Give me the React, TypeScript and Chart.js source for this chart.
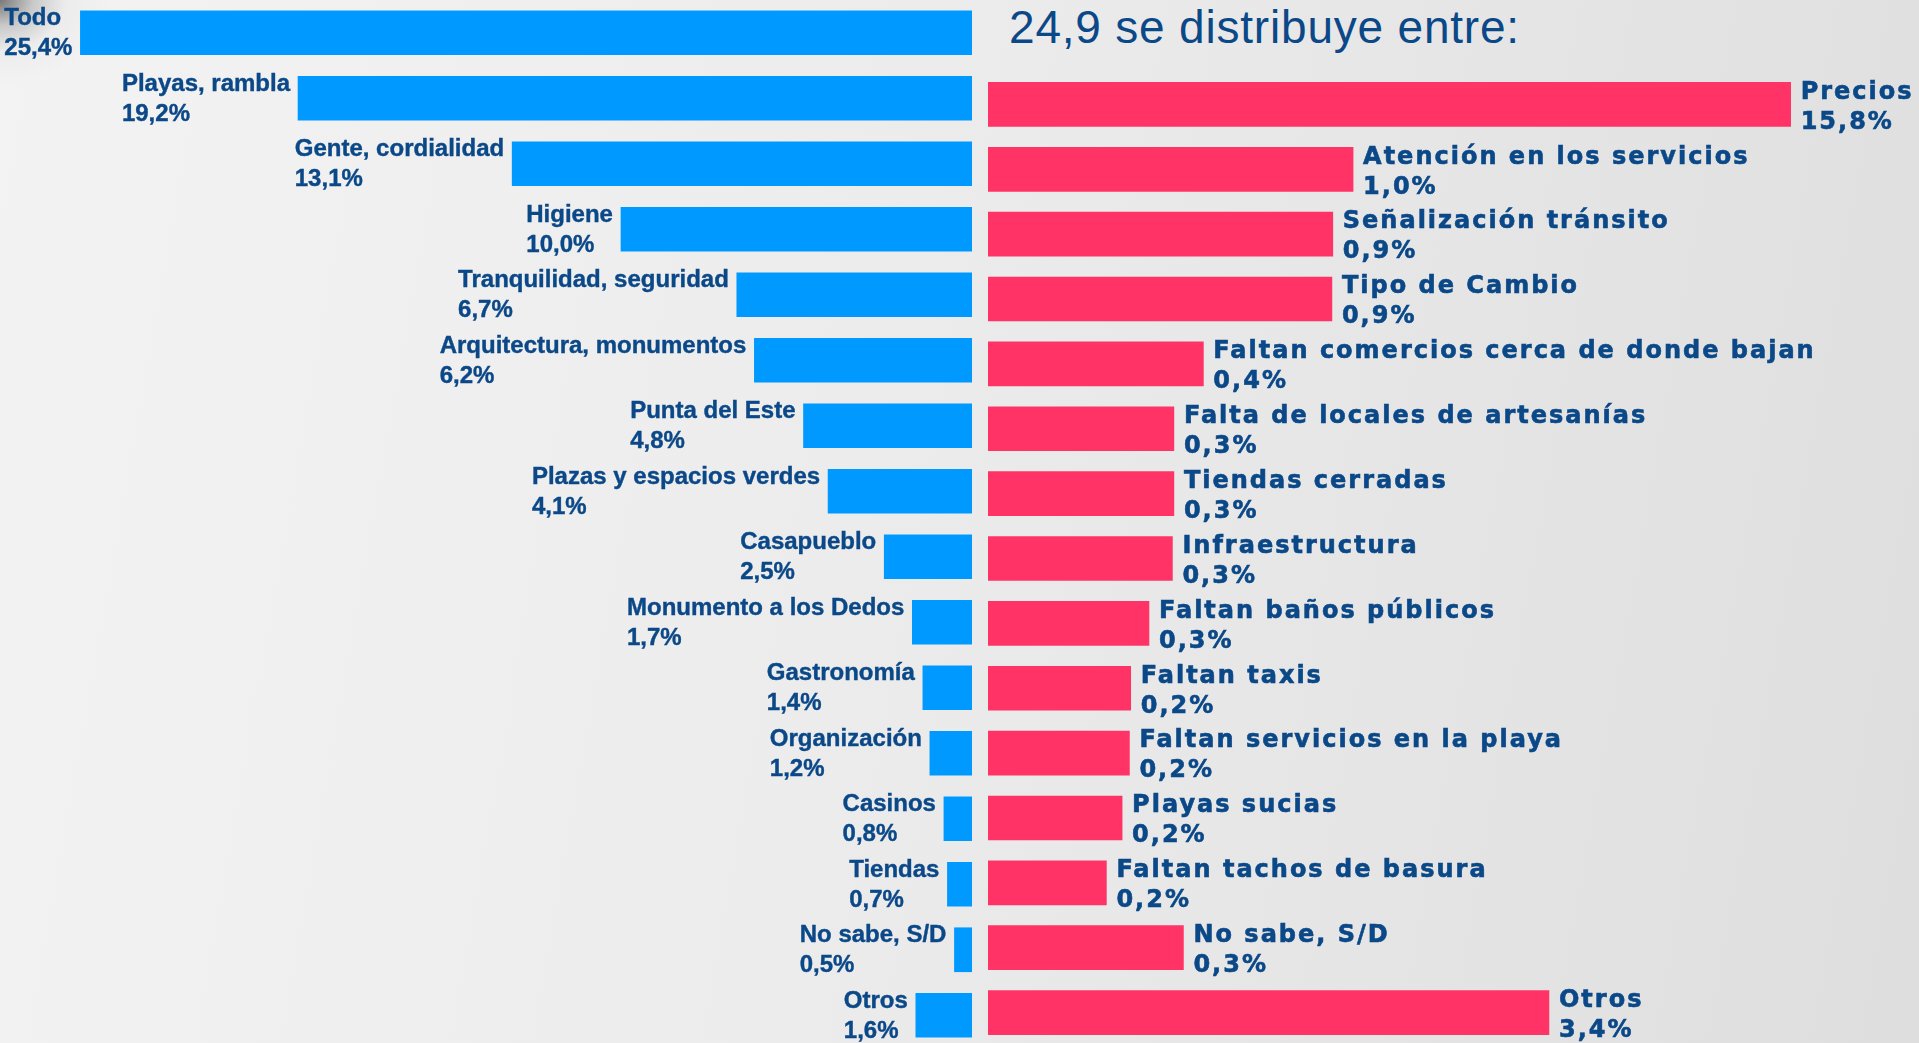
import React, { useEffect, useRef } from "react";
import { Chart, registerables } from "chart.js";

Chart.register(...registerables);

// ---- data ----
const titleText = "24,9 se distribuye entre:";

const likeCategories = [
  "Todo",
  "Playas, rambla",
  "Gente, cordialidad",
  "Higiene",
  "Tranquilidad, seguridad",
  "Arquitectura, monumentos",
  "Punta del Este",
  "Plazas y espacios verdes",
  "Casapueblo",
  "Monumento a los Dedos",
  "Gastronomía",
  "Organización",
  "Casinos",
  "Tiendas",
  "No sabe, S/D",
  "Otros",
];
const likeValues = [25.4, 19.2, 13.1, 10.0, 6.7, 6.2, 4.8, 4.1, 2.5, 1.7, 1.4, 1.2, 0.8, 0.7, 0.5, 1.6];

const dislikeCategories = [
  "Precios",
  "Atención en los servicios",
  "Señalización tránsito",
  "Tipo de Cambio",
  "Faltan comercios cerca de donde bajan",
  "Falta de locales de artesanías",
  "Tiendas cerradas",
  "Infraestructura",
  "Faltan baños públicos",
  "Faltan taxis",
  "Faltan servicios en la playa",
  "Playas sucias",
  "Faltan tachos de basura",
  "No sabe, S/D",
  "Otros",
];
// (log axis starting at 0,1); printed rounded to one decimal
const dislikeValues = [15.8, 1.0, 0.88, 0.875, 0.389, 0.323, 0.323, 0.32, 0.276, 0.246, 0.244, 0.233, 0.211, 0.343, 3.44];

// ---- styles ----
const NAVY = "#0B4888";
const BLUE = "#0099FF";
const RED = "#FF3366";

const fmt = (v: number) => v.toFixed(1).replace(".", ",") + "%";

const leftLabelPlugin = {
  id: "leftLabels",
  afterDatasetsDraw(chart: any) {
    const ctx = chart.ctx as CanvasRenderingContext2D;
    const meta = chart.getDatasetMeta(0);
    ctx.save();
    ctx.font = 'bold 24px "Liberation Sans", Arial, sans-serif';
    ctx.fillStyle = NAVY;
    ctx.strokeStyle = NAVY;
    ctx.lineWidth = 0.4;
    ctx.textAlign = "left";
    ctx.textBaseline = "alphabetic";
    meta.data.forEach((el: any, i: number) => {
      const name = likeCategories[i];
      const pct = fmt(likeValues[i]);
      const w = Math.max(ctx.measureText(name).width, ctx.measureText(pct).width);
      const x0 = el.x - 8 - w;
      ctx.fillText(name, x0, el.y - 7.4);
      ctx.strokeText(name, x0, el.y - 7.4);
      ctx.fillText(pct, x0, el.y + 22.6);
      ctx.strokeText(pct, x0, el.y + 22.6);
    });
    ctx.restore();
  },
};

const rightLabelPlugin = {
  id: "rightLabels",
  afterDatasetsDraw(chart: any) {
    const ctx = chart.ctx as any;
    const meta = chart.getDatasetMeta(0);
    ctx.save();
    ctx.font = 'bold 24px "DejaVu Sans", Verdana, sans-serif';
    ctx.letterSpacing = "2px";
    ctx.fillStyle = NAVY;
    ctx.strokeStyle = NAVY;
    ctx.lineWidth = 0.6;
    ctx.textAlign = "left";
    ctx.textBaseline = "alphabetic";
    meta.data.forEach((el: any, i: number) => {
      const x0 = el.x + 10;
      const name = dislikeCategories[i];
      const pct = fmt(dislikeValues[i]);
      ctx.fillText(name, x0, el.y - 5.7);
      ctx.strokeText(name, x0, el.y - 5.7);
      ctx.fillText(pct, x0, el.y + 24.3);
      ctx.strokeText(pct, x0, el.y + 24.3);
    });
    ctx.restore();
  },
};

function LikeChart() {
  const ref = useRef<HTMLCanvasElement>(null);
  useEffect(() => {
    if (!ref.current) return;
    const chart = new Chart(ref.current, {
      type: "bar",
      data: {
        labels: likeCategories,
        datasets: [
          {
            data: likeValues,
            backgroundColor: BLUE,
            borderWidth: 0,
            barThickness: 44,
          },
        ],
      },
      options: {
        indexAxis: "y",
        animation: false,
        responsive: false,
        devicePixelRatio: 1,
        layout: { padding: 0 },
        plugins: { legend: { display: false }, tooltip: { enabled: false }, title: { display: false } },
        scales: {
          x: { type: "linear", reverse: true, min: 0, max: 27.69, display: false },
          y: { type: "category", display: false, offset: true },
        },
      },
      plugins: [leftLabelPlugin],
    } as any);
    return () => chart.destroy();
  }, []);
  return (
    <canvas
      ref={ref}
      width={972}
      height={1048}
      style={{ position: "absolute", left: 0, top: 0, width: 972, height: 1048 }}
    />
  );
}

function DislikeChart() {
  const ref = useRef<HTMLCanvasElement>(null);
  useEffect(() => {
    if (!ref.current) return;
    const chart = new Chart(ref.current, {
      type: "bar",
      data: {
        labels: dislikeCategories,
        datasets: [
          {
            data: dislikeValues,
            backgroundColor: RED,
            borderWidth: 0,
            barThickness: 44,
          },
        ],
      },
      options: {
        indexAxis: "y",
        animation: false,
        responsive: false,
        devicePixelRatio: 1,
        layout: { padding: 0 },
        plugins: { legend: { display: false }, tooltip: { enabled: false }, title: { display: false } },
        scales: {
          x: { type: "logarithmic", min: 0.1, max: 35.5, display: false },
          y: { type: "category", display: false, offset: true },
        },
      },
      plugins: [rightLabelPlugin],
    } as any);
    return () => chart.destroy();
  }, []);
  return (
    <canvas
      ref={ref}
      width={931}
      height={973}
      style={{ position: "absolute", left: 988, top: 72, width: 931, height: 973 }}
    />
  );
}

export default function App() {
  return (
    <div
      style={{
        position: "fixed",
        left: 0,
        top: 0,
        width: 1919,
        height: 1043,
        overflow: "hidden",
        background: "linear-gradient(100deg, #f3f3f3 0%, #ececec 45%, #dedede 100%)",
      }}
    >
      <div
        style={{
          position: "absolute",
          left: 0,
          top: 0,
          width: 200,
          height: 160,
          background:
            "radial-gradient(ellipse 110px 85px at 0px 0px, rgba(80,80,80,0.75) 0%, rgba(150,150,150,0.45) 30%, rgba(210,210,210,0.2) 60%, rgba(240,240,240,0) 100%)",
        }}
      />
      <div
        style={{
          position: "absolute",
          left: 1009,
          top: 4,
          fontFamily: '"Liberation Sans", Arial, sans-serif',
          fontSize: 46,
          lineHeight: "46px",
          letterSpacing: "0.8px",
          color: NAVY,
          whiteSpace: "nowrap",
        }}
      >
        {titleText}
      </div>
      <LikeChart />
      <DislikeChart />
    </div>
  );
}
